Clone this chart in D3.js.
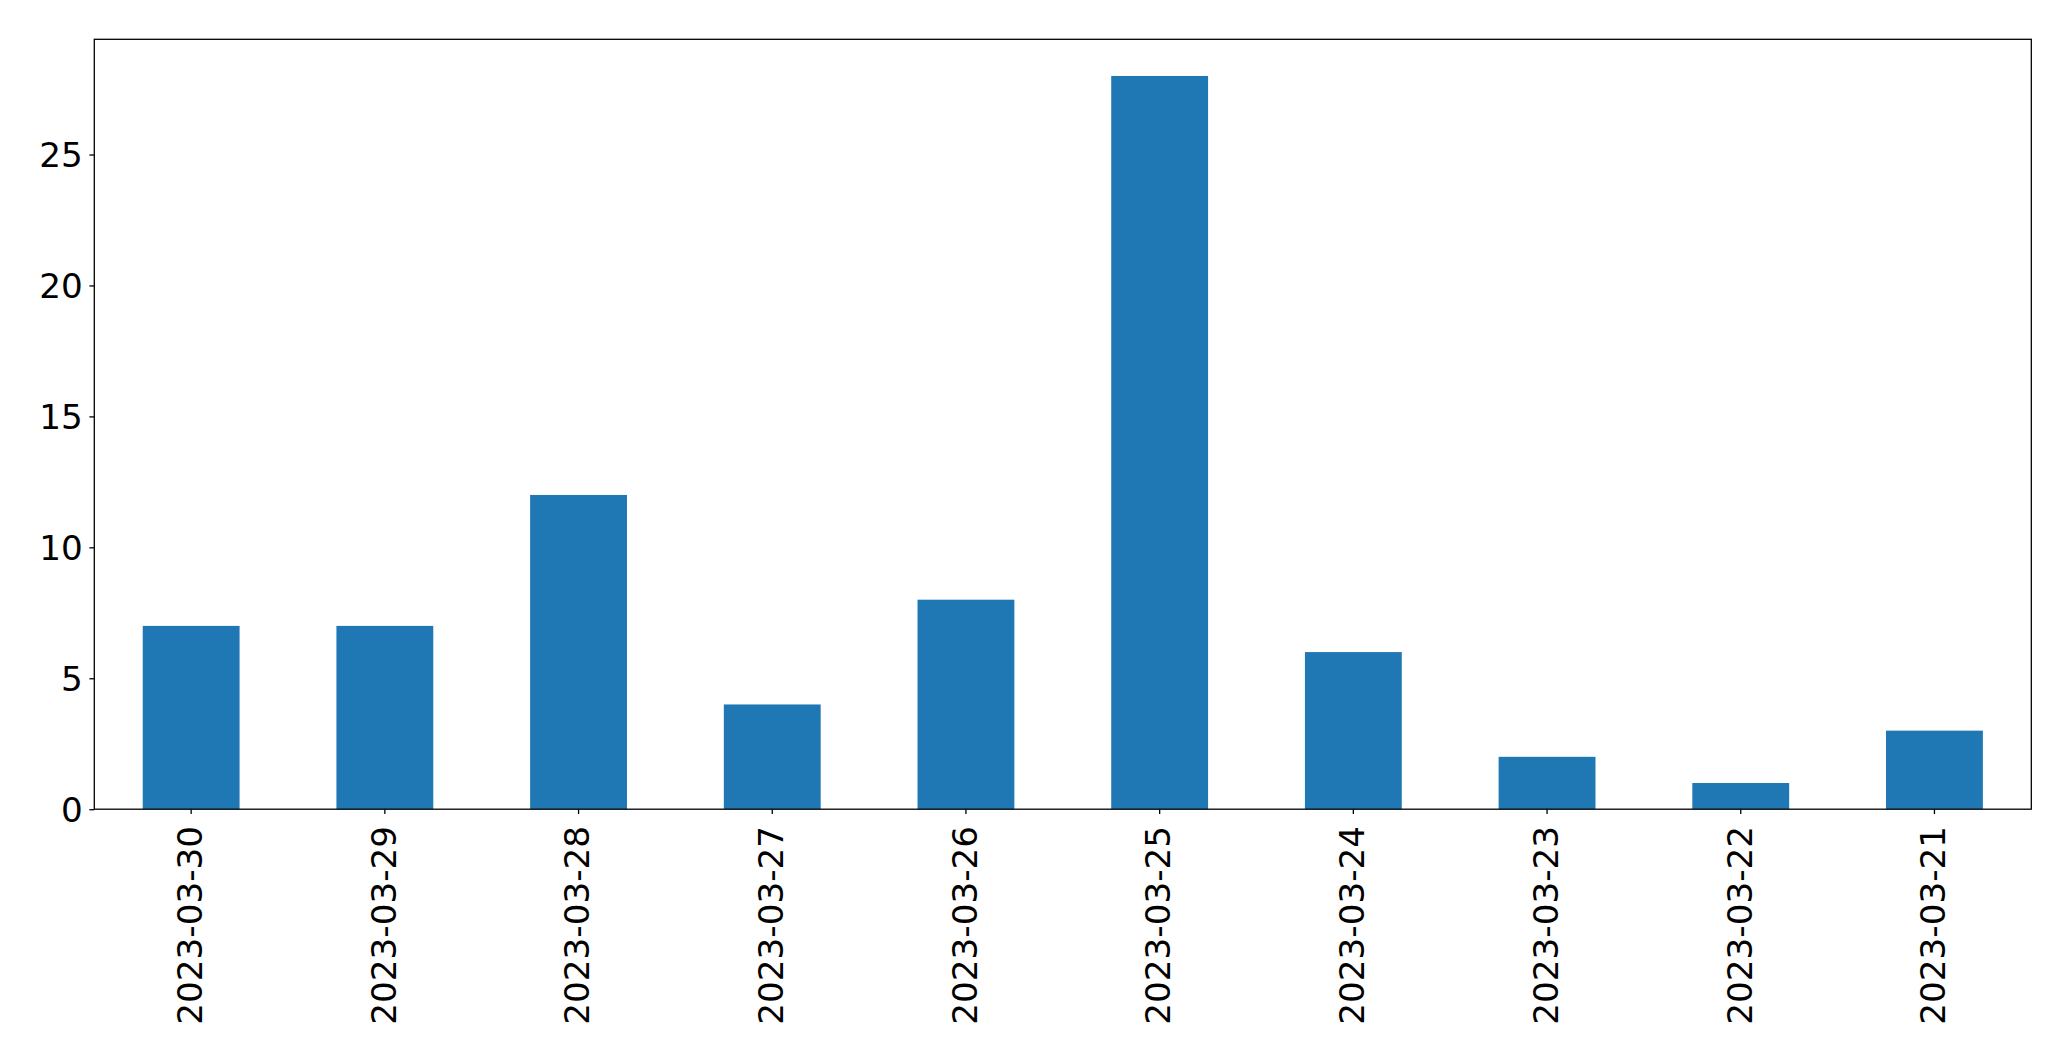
<!DOCTYPE html>
<html><head><meta charset="utf-8">
<script src="https://cdn.jsdelivr.net/npm/d3@7"></script>
<style>body{margin:0;background:#fff}svg{display:block}</style>
</head><body>
<script>
const categories = ["2023-03-30","2023-03-29","2023-03-28","2023-03-27","2023-03-26","2023-03-25","2023-03-24","2023-03-23","2023-03-22","2023-03-21"];
const values = [7,7,12,4,8,28,6,2,1,3];
const yTicks = [0,5,10,15,20,25];

const W = 2071, H = 1061;
const L = 94.3, R = 2031.3, T = 39.3, B = 809.2;
const svg = d3.select("body").append("svg").attr("width", W).attr("height", H);

const x = d3.scaleBand().domain(categories).range([L, R]).paddingInner(0.5).paddingOuter(0.25);
const y = d3.scaleLinear().domain([0, d3.max(values) * 1.05]).range([B, T]);

svg.append("g").selectAll("rect").data(values).join("rect")
  .attr("x", (d, i) => x(categories[i]))
  .attr("width", x.bandwidth())
  .attr("y", d => y(d))
  .attr("height", d => B - y(d))
  .attr("fill", "#1f77b4");

const font = "'DejaVu Sans', sans-serif";
const fs = 34.2;

const ya = svg.append("g").attr("transform", `translate(${L},0)`)
  .call(d3.axisLeft(y).tickValues(yTicks).tickSize(4.9).tickPadding(6.6).tickSizeOuter(0));
ya.select(".domain").remove();
ya.selectAll("line").attr("stroke", "#000").attr("stroke-width", 1.3);
ya.selectAll("text").attr("font-family", font).attr("font-size", fs).attr("fill", "#000").attr("dy", "0.36em");

const xa = svg.append("g").attr("transform", `translate(0,${B})`)
  .call(d3.axisBottom(x).tickSize(4.9).tickSizeOuter(0));
xa.select(".domain").remove();
xa.selectAll("line").attr("stroke", "#000").attr("stroke-width", 1.3);
xa.selectAll("text")
  .attr("font-family", font).attr("font-size", fs).attr("fill", "#000")
  .attr("text-anchor", "end")
  .attr("dominant-baseline", "central")
  .attr("x", 0).attr("y", 0).attr("dy", null)
  .attr("transform", "translate(-1.2,16.8) rotate(-90)");

svg.append("rect").attr("x", L).attr("y", T).attr("width", R - L).attr("height", B - T)
  .attr("fill", "none").attr("stroke", "#000").attr("stroke-width", 1.3);
</script>
</body></html>
